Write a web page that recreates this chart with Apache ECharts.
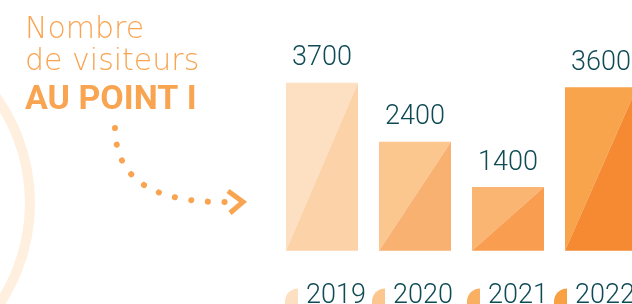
<!DOCTYPE html>
<html>
<head>
<meta charset="utf-8">
<script src="https://cdn.jsdelivr.net/npm/echarts@6/dist/echarts.min.js"></script>
<style>
  html, body { margin: 0; padding: 0; background: #fff; }
  #chart { width: 632px; height: 304px; }
</style>
</head>
<body>
<div id="chart"></div>
<script>
// données
var years = ['2019', '2020', '2021', '2022'];
var visitors = [3700, 2400, 1400, 3600];
// deux tons par barre (triangle haut-gauche, triangle bas-droite)
var lightShades = ['#FDDFC1', '#FCC68F', '#FAB572', '#F8A44D'];
var darkShades = ['#FCD3A9', '#F9B171', '#F99D51', '#F58A33'];
var legendColors = ['#FDDFC1', '#FCC68F', '#FAB062', '#F8A042'];
var legendLeft = [285, 372, 467, 554];

var orange = '#F9A451';
var teal = '#0F4B55';

var myChart = echarts.init(document.getElementById('chart'));

function renderBar(params, api) {
    var v = api.value(1);
    var top = api.coord([api.value(0), v]);
    var base = api.coord([api.value(0), 0]);
    var w = api.size([1, 0])[0] * 72 / 93;
    var l = top[0] - w / 2, r = top[0] + w / 2;
    var i = params.seriesIndex;
    return {
        type: 'group',
        children: [{
            type: 'polygon',
            shape: { points: [[l, base[1]], [l, top[1]], [r, top[1]]] },
            style: { fill: lightShades[i] }
        }, {
            type: 'polygon',
            shape: { points: [[l, base[1]], [r, top[1]], [r, base[1]]] },
            style: { fill: darkShades[i] }
        }, {
            type: 'text',
            style: {
                text: String(v),
                x: top[0],
                y: top[1] - 24,
                align: 'center',
                verticalAlign: 'middle',
                fontFamily: 'Roboto',
                fontWeight: 300,
                fontSize: 27,
                fill: teal
            }
        }]
    };
}

var series = years.map(function(y, i) {
    return {
        name: y,
        type: 'custom',
        renderItem: renderBar,
        itemStyle: { color: legendColors[i] },
        data: [[i, visitors[i]]]
    };
});

var legends = years.map(function(y, i) {
    return {
        data: [y],
        left: legendLeft[i],
        top: 283,
        padding: 0,
        itemWidth: 13,
        itemHeight: 16,
        icon: 'path://M0,16 L0,13 A13,13 0 0 1 13,0 L13,16 Z',
        selectedMode: false,
        textStyle: {
            fontFamily: 'Roboto',
            fontWeight: 300,
            fontSize: 27,
            color: teal,
            padding: [0, 0, 0, 3]
        }
    };
});

var option = {
    animation: false,
    grid: { left: 275.5, width: 372, top: 69, bottom: 53.3, outerBoundsMode: 'none', containLabel: false },
    xAxis: { type: 'category', data: years, show: false },
    yAxis: { type: 'value', min: 0, max: 4000, show: false },
    legend: legends,
    graphic: [{
        type: 'circle',
        shape: { cx: -152, cy: 203, r: 182 },
        style: { fill: 'none', stroke: '#FEEFDF', lineWidth: 10 },
        z: -1
    }, {
        type: 'text',
        style: { text: 'Nombre', x: 25, y: 15, fontFamily: 'DejaVu Sans', fontWeight: 200, fontSize: 30, fill: orange, verticalAlign: 'top' }
    }, {
        type: 'text',
        style: { text: 'de visiteurs', x: 25, y: 47, fontFamily: 'DejaVu Sans', fontWeight: 200, fontSize: 30, fill: orange, verticalAlign: 'top' }
    }, {
        type: 'text',
        style: { text: 'AU POINT I', x: 25, y: 83, fontFamily: 'Roboto', fontWeight: 'bold', fontSize: 34, fill: orange, verticalAlign: 'top' }
    }, {
        type: 'bezierCurve',
        shape: { x1: 115, y1: 128, cpx1: 116, cpy1: 178, cpx2: 150, cpy2: 203, x2: 228, y2: 202 },
        style: { stroke: orange, lineWidth: 6, lineCap: 'round', lineDash: [0.1, 16.6], fill: 'none' }
    }, {
        type: 'polyline',
        shape: { points: [[228, 191], [243, 202], [230, 213]] },
        style: { stroke: orange, lineWidth: 5, fill: 'none' }
    }],
    series: series
};

myChart.setOption(option);
</script>
</body>
</html>
